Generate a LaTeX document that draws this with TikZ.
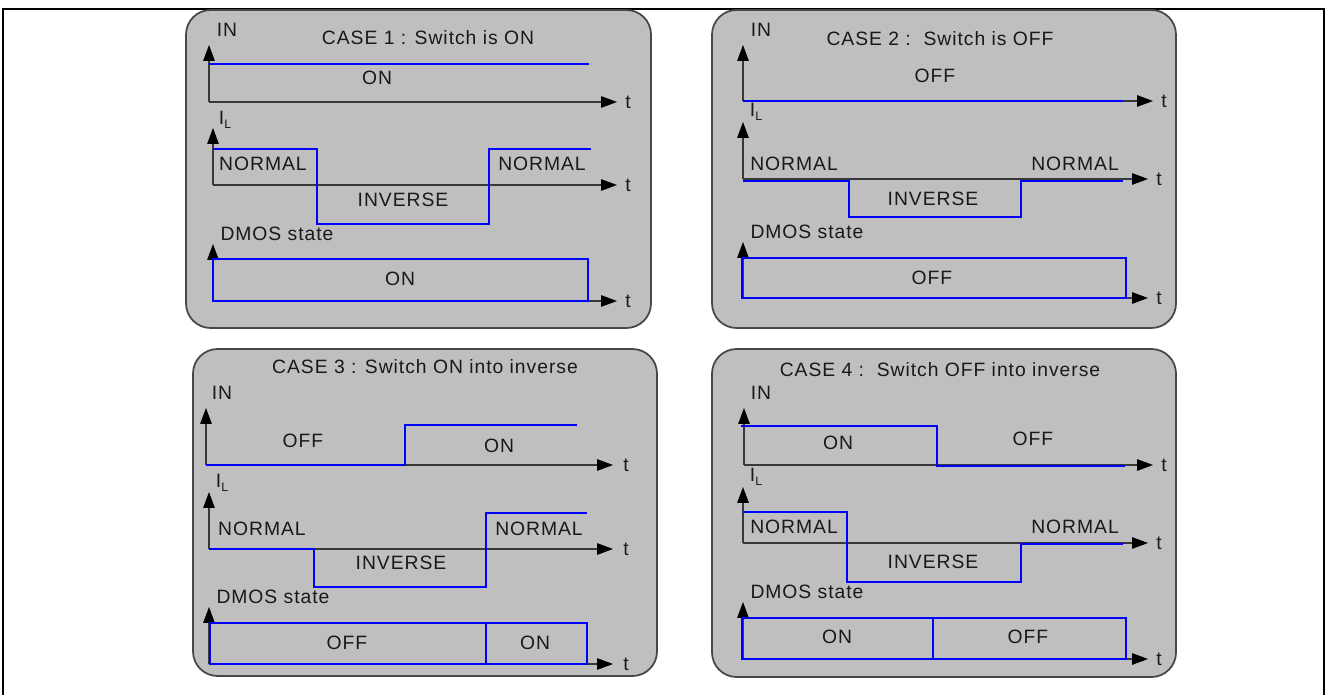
\documentclass[tikz,border=0pt]{standalone}
\usepackage{fontspec}
\setmainfont[LetterSpace=5]{Liberation Sans}
\usetikzlibrary{arrows.meta}

\begin{document}
\begin{tikzpicture}[
    x=0.02cm, y=-0.02cm,
    font=\fontsize{11pt}{13pt}\selectfont,
    marco/.style={black, line width=0.6pt},
    panel/.style={fill=black!25, draw=black!72, line width=1pt, rounded corners=14pt},
    eje/.style={black!78, line width=0.6pt, -{Triangle[length=9pt, width=6.5pt, fill=black, color=black]}},
    senal/.style={blue, line width=1.1pt},
    rotulo/.style={inner sep=0pt, black!90},
    tlab/.style={inner sep=0pt, black!90}
  ]
  \useasboundingbox (0,0) rectangle (1327,695);
  % Pixel units, y pointing down: 1327 x 695.

  % --- outer frame, open at the bottom ---
  \draw[marco] (3,695) -- (3,9) -- (1324,9) -- (1324,695);

  % --- CASE 1 : Switch is ON ---
  \draw[panel] (186,10) rectangle (651,328);
  \foreach \k/\x/\yb/\yt in {a/209/102/45, b/213/185/128, c/213/301/244}{
    \draw[eje] (\x,\yb) -- (\x,\yt);
    \draw[eje] (\x,\yb) -- (617,\yb);
    \node[tlab] (c1t\k) at (628,\yb) {t};
  }
  \draw[senal] (209,64) -- (589,64);
  \draw[senal] (213,149) -| (317,224) -| (489,149) -- (591,149);
  \draw[senal] (213,259) rectangle (588,301);
  \node[rotulo] (c1title) at (428,38)  {CASE 1 : Switch is ON};
  \node[rotulo] (c1in)    at (227,30)  {IN};
  \node[rotulo] (c1il)    at (225,120) {I\raisebox{-0.45ex}{\fontsize{7pt}{8pt}\selectfont L}};
  \node[rotulo] (c1dmos)  at (277,234) {DMOS state};
  \node[rotulo] (c1on)    at (377,78)  {ON};
  \node[rotulo] (c1norm)  at (263,164) {NORMAL};
  \node[rotulo] (c1normb) at (542,164) {NORMAL};
  \node[rotulo] (c1inv)   at (403,200) {INVERSE};
  \node[rotulo] (c1dmon)  at (400,279) {ON};

  % --- CASE 2 : Switch is OFF ---
  \draw[panel] (712,10) rectangle (1176,328);
  \foreach \k/\yb/\yt/\xe in {a/101/45/1153, b/179/122/1148, c/298/242/1148}{
    \draw[eje] (743,\yb) -- (743,\yt);
    \draw[eje] (743,\yb) -- (\xe,\yb);
    \node[tlab] (c2t\k) at ({\xe+11},\yb) {t};
  }
  \draw[senal] (743,101) -- (1123,101);
  \draw[senal] (743,181) -| (849,217) -| (1021,181) -- (1123,181);
  \draw[senal] (742,258) rectangle (1126,298);
  \node[rotulo] (c2title) at (940,39)  {CASE 2 :\ \ Switch is OFF};
  \node[rotulo] (c2in)    at (761,30)  {IN};
  \node[rotulo] (c2il)    at (756,112) {I\raisebox{-0.45ex}{\fontsize{7pt}{8pt}\selectfont L}};
  \node[rotulo] (c2dmos)  at (807,232) {DMOS state};
  \node[rotulo] (c2off)   at (935,76)  {OFF};
  \node[rotulo] (c2norm)  at (794,164) {NORMAL};
  \node[rotulo] (c2normb) at (1075,164) {NORMAL};
  \node[rotulo] (c2inv)   at (933,199) {INVERSE};
  \node[rotulo] (c2dmoff) at (932,278) {OFF};

  % --- CASE 3 : Switch ON into inverse ---
  \draw[panel] (193,349) rectangle (657,676);
  \foreach \k/\x/\yb/\yt in {a/206/465/408, b/209/549/492, c/209/664/607}{
    \draw[eje] (\x,\yb) -- (\x,\yt);
    \draw[eje] (\x,\yb) -- (613,\yb);
    \node[tlab] (c3t\k) at (626,\yb) {t};
  }
  \draw[senal] (206,465) -| (405,425) -- (577,425);
  \draw[senal] (209,549) -| (314,587) -| (486,513) -- (587,513);
  \draw[senal] (210,623) rectangle (587,664);
  \draw[senal] (486,623) -- (486,664);
  \node[rotulo] (c3title) at (425,367) {CASE 3 : Switch ON into inverse};
  \node[rotulo] (c3in)    at (222,393) {IN};
  \node[rotulo] (c3il)    at (222,483) {I\raisebox{-0.45ex}{\fontsize{7pt}{8pt}\selectfont L}};
  \node[rotulo] (c3dmos)  at (273,597) {DMOS state};
  \node[rotulo] (c3off)   at (303,441) {OFF};
  \node[rotulo] (c3on)    at (499,446) {ON};
  \node[rotulo] (c3norm)  at (262,529) {NORMAL};
  \node[rotulo] (c3normb) at (539,529) {NORMAL};
  \node[rotulo] (c3inv)   at (401,563) {INVERSE};
  \node[rotulo] (c3dmoff) at (347,643) {OFF};
  \node[rotulo] (c3dmon)  at (535,643) {ON};

  % --- CASE 4 : Switch OFF into inverse ---
  \draw[panel] (712,349) rectangle (1176,677);
  \foreach \k/\x/\yb/\yt/\xe in {a/744/465/408/1153, b/743/543/487/1148, c/743/659/602/1148}{
    \draw[eje] (\x,\yb) -- (\x,\yt);
    \draw[eje] (\x,\yb) -- (\xe,\yb);
    \node[tlab] (c4t\k) at ({\xe+11},\yb) {t};
  }
  \draw[senal] (741,426) -| (937,466) -- (1125,466);
  \draw[senal] (743,512) -| (847,582) -| (1021,544) -- (1123,544);
  \draw[senal] (742,618) rectangle (1126,659);
  \draw[senal] (933,618) -- (933,659);
  \node[rotulo] (c4title) at (940,370) {CASE 4 :\ \ Switch OFF into inverse};
  \node[rotulo] (c4in)    at (761,393) {IN};
  \node[rotulo] (c4il)    at (756,477) {I\raisebox{-0.45ex}{\fontsize{7pt}{8pt}\selectfont L}};
  \node[rotulo] (c4dmos)  at (807,592) {DMOS state};
  \node[rotulo] (c4on)    at (838,443) {ON};
  \node[rotulo] (c4off)   at (1033,439) {OFF};
  \node[rotulo] (c4norm)  at (794,527) {NORMAL};
  \node[rotulo] (c4normb) at (1075,527) {NORMAL};
  \node[rotulo] (c4inv)   at (933,562) {INVERSE};
  \node[rotulo] (c4dmon)  at (837,637) {ON};
  \node[rotulo] (c4dmoff) at (1028,637) {OFF};
\end{tikzpicture}
\end{document}
